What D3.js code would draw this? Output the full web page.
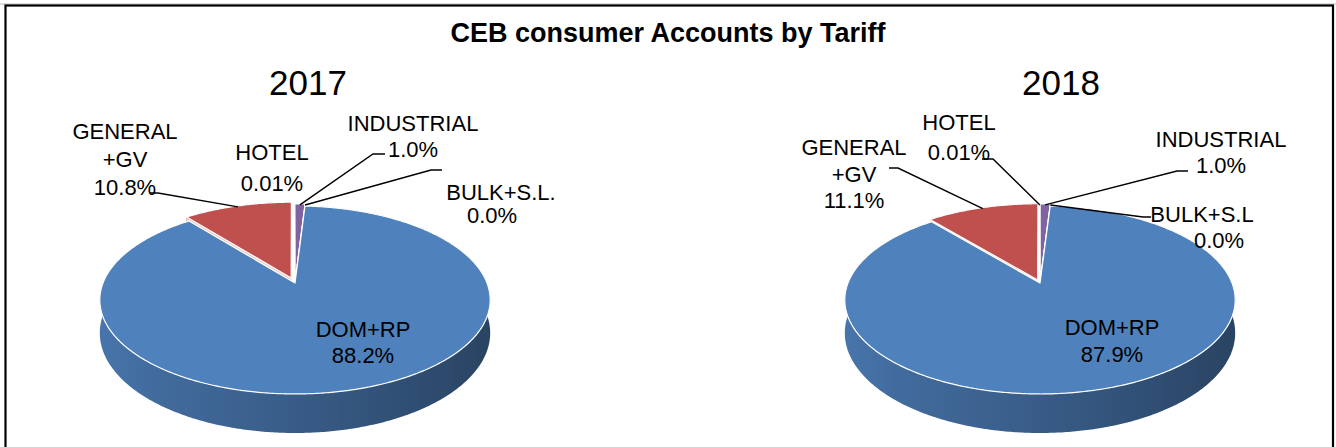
<!DOCTYPE html>
<html><head><meta charset="utf-8">
<script src="https://cdn.jsdelivr.net/npm/d3@7"></script>
<style>body{margin:0;background:#fff}svg{display:block}text{font-family:"Liberation Sans",Arial,sans-serif;fill:#000}</style>
</head><body><svg id="c" width="1336" height="447"></svg>
<script>
// ---- data ----
const chartTitle = "CEB consumer Accounts by Tariff";
const years = ["2017", "2018"];
const categories2017 = [["GENERAL", "+GV"], ["HOTEL"], ["INDUSTRIAL"], ["BULK+S.L."], ["DOM+RP"]];
const categories2018 = [["GENERAL", "+GV"], ["HOTEL"], ["INDUSTRIAL"], ["BULK+S.L"], ["DOM+RP"]];
const values2017 = [10.8, 0.01, 1.0, 0.0, 88.2];
const values2018 = [11.1, 0.01, 1.0, 0.0, 87.9];
const sliceColors = ["#c0504d", "#9bbb59", "#8064a2", "#4bacc6", "#4f81bd"];

// ---- layout ----
const layouts = [
  { cx: 295, cy: 283, Rx: 192, Ry: 91, k: 0.18, H: 32, rot: -39, yearX: 308,
    explode: [0.06, 0.03, 0.03, 0.03, 0],
    labels: [
      { x: [125], y: [139, 167, 195], line: [[150, 193], [158, 193]] },
      { x: [272], y: [160, 191] },
      { x: [413], y: [131, 157], line: [[385, 154], [373, 154]] },
      { x: [501, 492], y: [200, 223], line: [[442, 170], [431, 170]] },
      { x: [363], y: [337, 363] }
    ] },
  { cx: 1040, cy: 283, Rx: 192, Ry: 91, k: 0.18, H: 32, rot: -40, yearX: 1061,
    explode: [0.035, 0.03, 0.03, 0.03, 0],
    labels: [
      { x: [854], y: [155, 182, 208], line: [[889, 168], [898, 168]] },
      { x: [959], y: [130, 160], line: [[982, 159], [993, 159]] },
      { x: [1221], y: [147, 173], line: [[1188, 171], [1177, 171]] },
      { x: [1202, 1219], y: [222, 248], line: [[1151, 217], [1143, 217]] },
      { x: [1112], y: [335, 362] }
    ] }
];
const allValues = [values2017, values2018];
const allCats = [categories2017, categories2018];

const svg = d3.select("#c");
const defs = svg.append("defs");

// frame
svg.append("line").attr("x1", 0).attr("x2", 1336).attr("y1", 4).attr("y2", 4).attr("stroke", "#bbb").attr("stroke-width", 1);
svg.append("rect").attr("x", 5.5).attr("y", 5.5).attr("width", 1327.5).attr("height", 500)
  .attr("fill", "none").attr("stroke", "#000").attr("stroke-width", 2.2);

svg.append("text").attr("x", 668).attr("y", 42).attr("text-anchor", "middle")
  .attr("font-size", 27).attr("font-weight", "bold").text(chartTitle);

const fmt = v => (v > 0 && v < 0.1) ? v.toFixed(2) + "%" : v.toFixed(1) + "%";

layouts.forEach((g, gi) => {
  const values = allValues[gi], cats = allCats[gi];
  const rot = g.rot * Math.PI / 180;
  const pie = d3.pie().sort(null).startAngle(rot).endAngle(rot + 2 * Math.PI);
  const arcs = pie(values);

  // gradients for side walls
  sliceColors.forEach((c, i) => {
    const base = d3.color(c);
    const lg = defs.append("linearGradient").attr("id", `side${gi}_${i}`)
      .attr("gradientUnits", "userSpaceOnUse")
      .attr("x1", g.cx - g.Rx).attr("x2", g.cx + g.Rx).attr("y1", 0).attr("y2", 0);
    [[0, 0.3], [0.12, 0.5], [0.5, 0.95], [0.8, 1.4], [1, 1.8]].forEach(([o, d]) => {
      lg.append("stop").attr("offset", o).attr("stop-color", base.darker(d).formatHex());
    });
  });

  const P = (theta, r, dy, ex) => {
    const u = r * Math.sin(theta) + ex[0], v = r * Math.cos(theta) + ex[1];
    const s = 1 / (1 + g.k * v);
    return [g.cx + g.Rx * u * s, g.cy - g.Ry * v * s + g.H * s * dy];
  };
  const line = d3.line();

  const sl = arcs.map((a, i) => {
    const mid = (a.startAngle + a.endAngle) / 2;
    const e = g.explode[i];
    const ex = [e * Math.sin(mid), e * Math.cos(mid)];
    const n = Math.max(2, Math.ceil((a.endAngle - a.startAngle) / 0.01));
    const angs = d3.range(n + 1).map(j => a.startAngle + (a.endAngle - a.startAngle) * j / n);
    return { a, i, mid, ex, angs };
  });

  const gp = svg.append("g");
  // outer side walls
  sl.forEach(s => {
    const top = s.angs.map(t => P(t, 1, 0, s.ex));
    const bot = s.angs.map(t => P(t, 1, 1, s.ex)).reverse();
    gp.append("path").attr("d", line(top.concat(bot)) + "Z")
      .attr("fill", `url(#side${gi}_${s.i})`);
  });
  // radial walls
  sl.forEach(s => {
    const pale = d3.interpolateRgb(sliceColors[s.i], "#ffffff")(0.7);
    [s.a.startAngle, s.a.endAngle].forEach(t => {
      const pts = [P(t, 0, 0, s.ex), P(t, 1, 0, s.ex), P(t, 1, 1, s.ex), P(t, 0, 1, s.ex)];
      gp.append("path").attr("d", line(pts) + "Z").attr("fill", pale);
    });
  });
  // top faces
  sl.forEach(s => {
    const pts = [P(0, 0, 0, s.ex)].concat(s.angs.map(t => P(t, 1, 0, s.ex)));
    gp.append("path").attr("d", line(pts) + "Z")
      .attr("fill", sliceColors[s.i]).attr("stroke", "#ffffff").attr("stroke-width", 1.2)
      .attr("stroke-linejoin", "round");
  });

  // year
  svg.append("text").attr("x", g.yearX).attr("y", 95).attr("text-anchor", "middle")
    .attr("font-size", 35).text(years[gi]);

  // labels
  sl.forEach(s => {
    const L = g.labels[s.i];
    const lines = cats[s.i].concat([fmt(values[s.i])]);
    lines.forEach((t, j) => {
      svg.append("text").attr("x", L.x[Math.min(j, L.x.length - 1)]).attr("y", L.y[j])
        .attr("text-anchor", "middle").attr("font-size", 22).text(t);
    });
    if (L.line) {
      const anchor = P(s.mid, 0.985, 0, s.ex);
      svg.append("path").attr("d", line(L.line.concat([anchor])))
        .attr("fill", "none").attr("stroke", "#000").attr("stroke-width", 1.4);
    }
  });
});
</script></body></html>
